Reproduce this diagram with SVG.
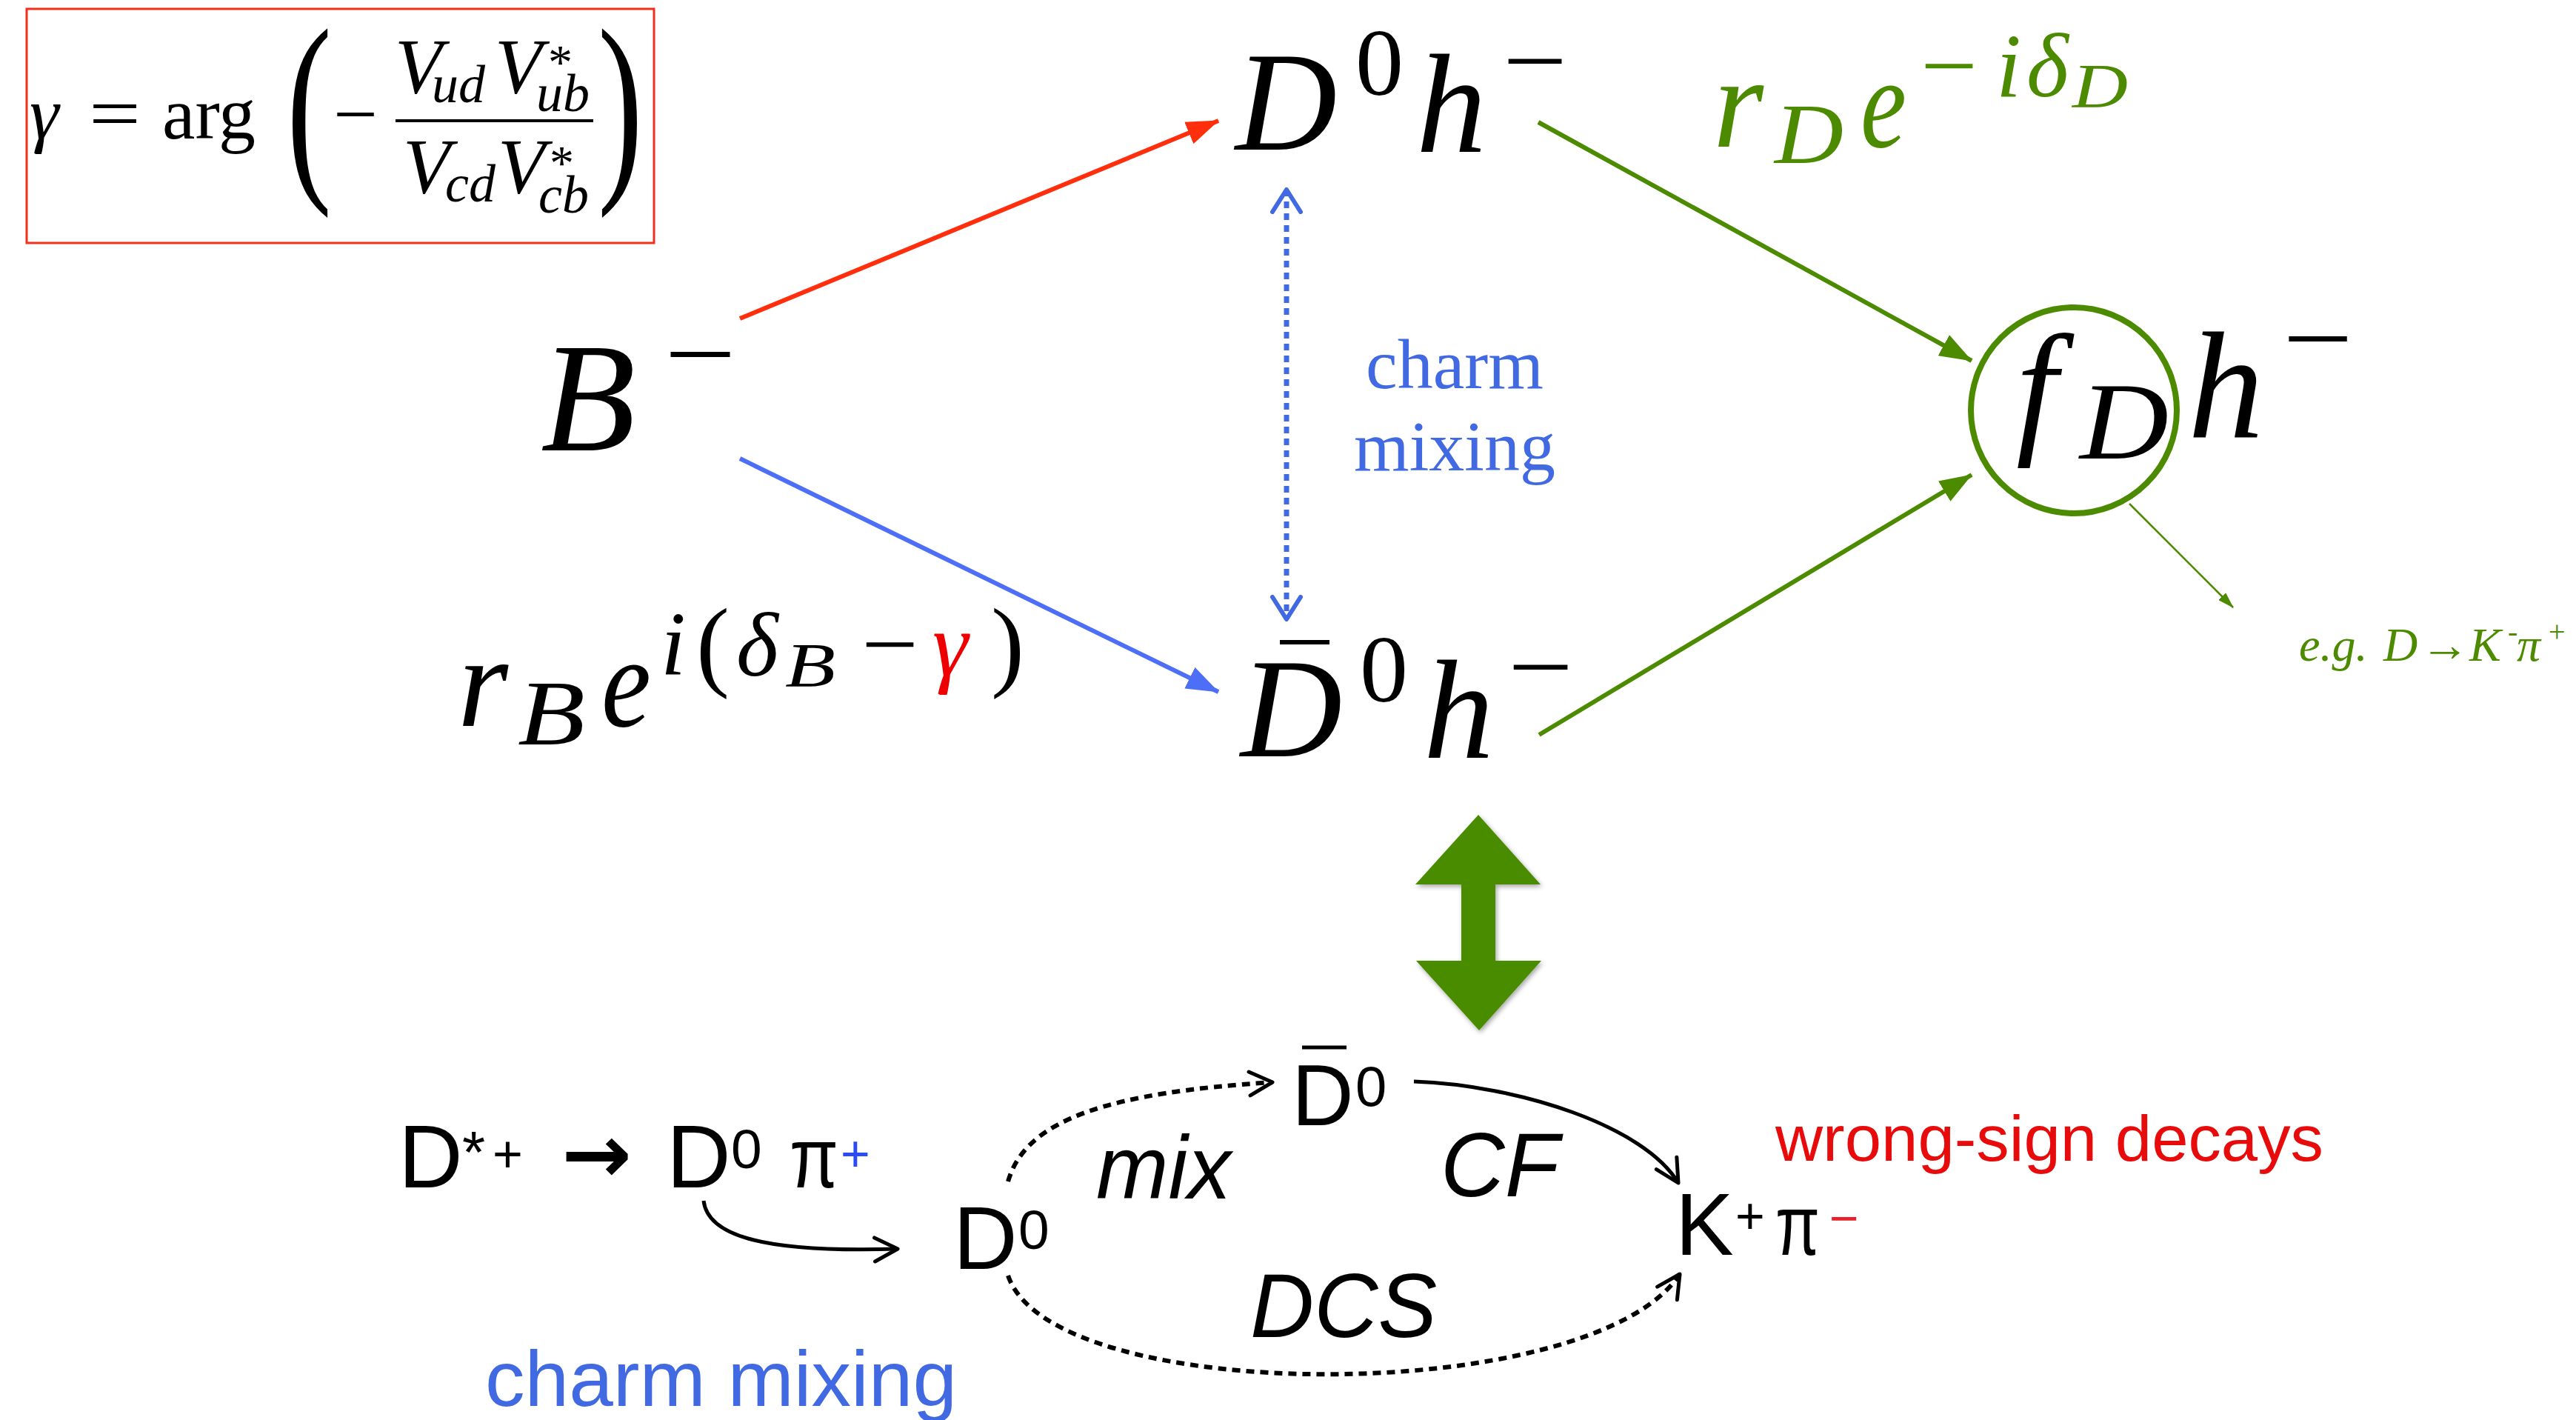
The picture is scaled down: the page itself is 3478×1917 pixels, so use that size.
<svg xmlns="http://www.w3.org/2000/svg" width="3478" height="1917" viewBox="0 0 3478 1917">
<style>
.m{font-family:"Liberation Serif","Times New Roman",serif;font-style:italic;fill:#000}
.u{font-family:"Liberation Serif","Times New Roman",serif;font-style:normal;fill:#000}
.s{font-family:"Liberation Sans",Arial,sans-serif;fill:#000}
.si{font-family:"Liberation Sans",Arial,sans-serif;font-style:italic;fill:#000}
.g{fill:#4c8a00}
.bl{fill:#4169e1}
</style>
<defs>
<marker id="hRed" markerUnits="userSpaceOnUse" viewBox="0 0 44 32" refX="43" refY="16" markerWidth="44" markerHeight="32" orient="auto"><path d="M0,0 L44,16 L0,32 z" fill="#ff2e0c"/></marker>
<marker id="hBlue" markerUnits="userSpaceOnUse" viewBox="0 0 44 32" refX="43" refY="16" markerWidth="44" markerHeight="32" orient="auto"><path d="M0,0 L44,16 L0,32 z" fill="#4d6ff7"/></marker>
<marker id="hGreen" markerUnits="userSpaceOnUse" viewBox="0 0 44 32" refX="43" refY="16" markerWidth="44" markerHeight="32" orient="auto"><path d="M0,0 L44,16 L0,32 z" fill="#4c8a00"/></marker>
<marker id="hGreenS" markerUnits="userSpaceOnUse" viewBox="0 0 22 14" refX="21" refY="7" markerWidth="22" markerHeight="14" orient="auto"><path d="M0,0 L22,7 L0,14 z" fill="#4c8a00"/></marker>
<marker id="hDot" markerUnits="userSpaceOnUse" viewBox="0 0 36 44" refX="33" refY="22" markerWidth="36" markerHeight="44" orient="auto-start-reverse"><path d="M3,3 L33,22 L3,41" fill="none" stroke="#4169e1" stroke-width="6" stroke-linecap="round" stroke-linejoin="round"/></marker>
<marker id="hOpen" markerUnits="userSpaceOnUse" viewBox="0 0 38 38" refX="34" refY="19" markerWidth="38" markerHeight="38" orient="auto"><path d="M3,3 L34,19 L3,35" fill="none" stroke="#000" stroke-width="5" stroke-linecap="round" stroke-linejoin="round"/></marker>
<filter id="shadow" x="-20%" y="-20%" width="140%" height="140%"><feDropShadow dx="2" dy="3" stdDeviation="3" flood-color="#000" flood-opacity="0.35"/></filter>
</defs>
<rect width="3478" height="1917" fill="#fff"/>

<g id="formula">
<rect x="36" y="12" width="847" height="316" fill="none" stroke="#f0301e" stroke-width="3"/>
<text class="m" x="40" y="187" font-size="100">γ</text>
<text class="u" x="120" y="187" font-size="100" textLength="70" lengthAdjust="spacingAndGlyphs">=</text>
<text class="u" x="219" y="187" font-size="100">arg</text>
<text class="u" x="387" y="234" font-size="282" textLength="61" lengthAdjust="spacingAndGlyphs">(</text>
<text class="u" x="450" y="188" font-size="100" textLength="60" lengthAdjust="spacingAndGlyphs">−</text>
<line x1="534" y1="163" x2="801" y2="163" stroke="#000" stroke-width="4"/>
<text class="m" x="533" y="125" font-size="105">V</text>
<text class="m" x="583" y="138" font-size="72">ud</text>
<text class="m" x="668" y="125" font-size="105">V</text>
<text class="u" x="740" y="106" font-size="66">*</text>
<text class="m" x="724" y="150" font-size="72">ub</text>
<text class="m" x="544" y="260" font-size="105">V</text>
<text class="m" x="601" y="272" font-size="72">cd</text>
<text class="m" x="672" y="260" font-size="105">V</text>
<text class="u" x="742" y="242" font-size="66">*</text>
<text class="m" x="727" y="287" font-size="72">cb</text>
<text class="u" x="807" y="234" font-size="282" textLength="61" lengthAdjust="spacingAndGlyphs">)</text>
</g>

<g id="node-B">
<text class="m" x="730" y="608" font-size="210">B</text>
<text class="u" x="897" y="526" font-size="143" textLength="97" lengthAdjust="spacingAndGlyphs">−</text>
</g>

<g id="node-D0h">
<text class="m" x="1668" y="202" font-size="190">D</text>
<text class="u" x="1830" y="128" font-size="130">0</text>
<text class="m" x="1912" y="205" font-size="190">h</text>
<text class="u" x="2029" y="126" font-size="130" textLength="87" lengthAdjust="spacingAndGlyphs">−</text>
</g>

<g id="node-D0barh">
<text class="m" x="1675" y="1021" font-size="190">D</text>
<line x1="1728" y1="867" x2="1795" y2="867" stroke="#000" stroke-width="6"/>
<text class="u" x="1836" y="947" font-size="130">0</text>
<text class="m" x="1922" y="1023" font-size="190">h</text>
<text class="u" x="2036" y="944" font-size="130" textLength="88" lengthAdjust="spacingAndGlyphs">−</text>
</g>

<g id="node-fDh">
<ellipse cx="2800" cy="554" rx="139" ry="139" fill="none" stroke="#4c8a00" stroke-width="8"/>
<text class="m" x="2722" y="590" font-size="200">f</text>
<text class="m" x="2808" y="619" font-size="148" textLength="120" lengthAdjust="spacingAndGlyphs">D</text>
<text class="m" x="2954" y="590" font-size="205">h</text>
<text class="u" x="3082" y="504" font-size="140" textLength="95" lengthAdjust="spacingAndGlyphs">−</text>
</g>

<g id="label-rB">
<text class="m" x="618" y="980" font-size="175">r</text>
<text class="m" x="699" y="1005" font-size="125" textLength="91" lengthAdjust="spacingAndGlyphs">B</text>
<text class="m" x="812" y="980" font-size="175" textLength="67" lengthAdjust="spacingAndGlyphs">e</text>
<text class="m" x="892" y="910" font-size="122">i</text>
<text class="u" x="940" y="915" font-size="135">(</text>
<text class="m" x="994" y="912" font-size="122">δ</text>
<text class="m" x="1060" y="927" font-size="85" textLength="68" lengthAdjust="spacingAndGlyphs">B</text>
<text class="u" x="1163" y="911" font-size="122" textLength="77" lengthAdjust="spacingAndGlyphs">−</text>
<text class="m" x="1259" y="912" font-size="122" style="fill:#ee0000">γ</text>
<text class="u" x="1338" y="915" font-size="135">)</text>
</g>

<g id="label-rD">
<text class="m g" x="2313" y="198" font-size="175">r</text>
<text class="m g" x="2396" y="220" font-size="117" textLength="93" lengthAdjust="spacingAndGlyphs">D</text>
<text class="m g" x="2512" y="198" font-size="175" textLength="62" lengthAdjust="spacingAndGlyphs">e</text>
<text class="u g" x="2593" y="130" font-size="122" textLength="77" lengthAdjust="spacingAndGlyphs">−</text>
<text class="m g" x="2695" y="130" font-size="122">i</text>
<text class="m g" x="2736" y="130" font-size="122">δ</text>
<text class="m g" x="2798" y="145" font-size="85" textLength="75" lengthAdjust="spacingAndGlyphs">D</text>
</g>

<g id="label-charm-mixing-top">
<text class="u bl" x="1964" y="524" font-size="96" text-anchor="middle">charm</text>
<text class="u bl" x="1964" y="635" font-size="96" text-anchor="middle">mixing</text>
</g>

<g id="label-eg">
<text class="m g" x="3104" y="892" font-size="64">e.g.</text>
<text class="m g" x="3218" y="892" font-size="64">D</text>
<text class="u g" x="3268" y="892" font-size="64" textLength="66" lengthAdjust="spacingAndGlyphs">→</text>
<text class="m g" x="3334" y="892" font-size="64">K</text>
<text class="u g" x="3386" y="866" font-size="40">-</text>
<text class="m g" x="3398" y="892" font-size="64">π</text>
<text class="u g" x="3441" y="866" font-size="40">+</text>
</g>

<g id="big-arrow">
<polygon points="1996,1100 2080,1194 2019,1194 2019,1297 2081,1297 1997,1391 1912,1297 1973,1297 1973,1194 1911,1194" fill="#4a8c00" filter="url(#shadow)"/>
</g>

<g id="node-Dstar">
<text class="s" x="538" y="1603" font-size="120">D</text>
<text class="s" x="624" y="1583" font-size="80">*</text>
<text class="s" x="665" y="1582" font-size="70">+</text>
<text x="758" y="1596" font-size="110" font-weight="bold" font-family="DejaVu Sans, sans-serif" textLength="95" lengthAdjust="spacingAndGlyphs">→</text>
</g>

<g id="node-D0pi">
<text class="s" x="900" y="1603" font-size="120">D</text>
<text class="s" x="987" y="1577" font-size="75">0</text>
<text class="s" x="1066" y="1603" font-size="115" textLength="66" lengthAdjust="spacingAndGlyphs">π</text>
<text class="s" x="1135" y="1581" font-size="68" style="fill:#2a4bf5">+</text>
</g>

<g id="node-D0">
<text class="s" x="1287" y="1713" font-size="120">D</text>
<text class="s" x="1375" y="1686" font-size="75">0</text>
</g>

<g id="node-D0bar">
<text class="s" x="1744" y="1519" font-size="116">D</text>
<line x1="1758" y1="1414" x2="1818" y2="1414" stroke="#000" stroke-width="5"/>
<text class="s" x="1830" y="1493" font-size="76">0</text>
</g>

<g id="node-Kpi">
<text class="s" x="2262" y="1694" font-size="118">K</text>
<text class="s" x="2343" y="1665" font-size="68">+</text>
<text class="s" x="2397" y="1694" font-size="115" textLength="60" lengthAdjust="spacingAndGlyphs">π</text>
<text class="s" x="2470" y="1668" font-size="68" style="fill:#e8202a">−</text>
</g>

<g id="bottom-labels">
<text class="si" x="1480" y="1618" font-size="120" textLength="182" lengthAdjust="spacingAndGlyphs">mix</text>
<text class="si" x="1945" y="1615" font-size="122" textLength="160" lengthAdjust="spacingAndGlyphs">CF</text>
<text class="si" x="1688" y="1805" font-size="122" textLength="252" lengthAdjust="spacingAndGlyphs">DCS</text>
<text class="s" x="2397" y="1567" font-size="88" textLength="740" lengthAdjust="spacingAndGlyphs" style="fill:#e80b0b">wrong-sign decays</text>
<text class="s" x="655" y="1898" font-size="106" textLength="637" lengthAdjust="spacingAndGlyphs" style="fill:#4169e1">charm mixing</text>
</g>

<g id="connectors" fill="none">
<line x1="999" y1="430" x2="1645" y2="163" stroke="#ff2e0c" stroke-width="6" marker-end="url(#hRed)"/>
<line x1="999" y1="619" x2="1645" y2="934" stroke="#4d6ff7" stroke-width="6" marker-end="url(#hBlue)"/>
<line x1="1737" y1="256" x2="1737" y2="836" stroke="#4169e1" stroke-width="7" stroke-dasharray="9 7" marker-start="url(#hDot)" marker-end="url(#hDot)"/>
<line x1="2077" y1="165" x2="2662" y2="487" stroke="#4c8a00" stroke-width="6" marker-end="url(#hGreen)"/>
<line x1="2078" y1="992" x2="2662" y2="641" stroke="#4c8a00" stroke-width="6" marker-end="url(#hGreen)"/>
<line x1="2875" y1="680" x2="3015" y2="820" stroke="#4c8a00" stroke-width="2.5" marker-end="url(#hGreenS)"/>
<path d="M950,1621 C955,1665 1020,1692 1212,1686" stroke="#000" stroke-width="5" marker-end="url(#hOpen)"/>
<path d="M1361,1595 C1385,1510 1500,1475 1718,1461" stroke="#000" stroke-width="6" stroke-dasharray="11 8" marker-end="url(#hOpen)"/>
<path d="M1909,1460 C2050,1465 2220,1520 2266,1597" stroke="#000" stroke-width="5" marker-end="url(#hOpen)"/>
<path d="M1361,1722 C1420,1900 2150,1900 2268,1720" stroke="#000" stroke-width="6" stroke-dasharray="11 8" marker-end="url(#hOpen)"/>
</g>
</svg>
